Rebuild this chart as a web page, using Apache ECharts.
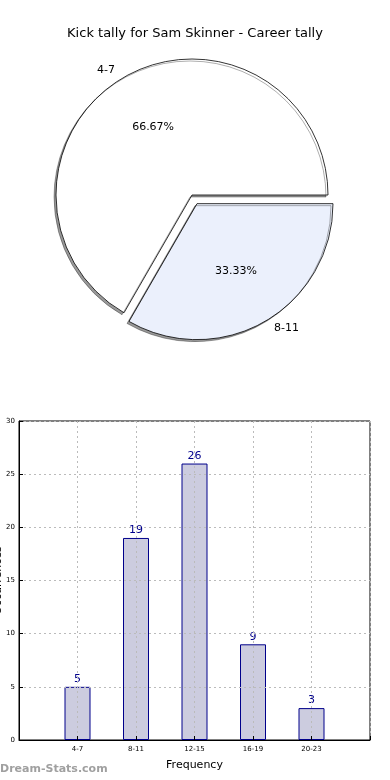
<!DOCTYPE html>
<html>
<head>
<meta charset="utf-8">
<script src="https://cdn.jsdelivr.net/npm/echarts@6/dist/echarts.min.js"></script>
<style>html,body{margin:0;padding:0;background:#fff}#c{width:390px;height:780px}</style>
</head>
<body>
<div id="c"></div>
<script>
// ---- data ----
var titleText = 'Kick tally for Sam Skinner - Career tally';
var pieCategories = ['4-7', '8-11'];
var pieValues = [2, 1];
var barCategories = ['', '4-7', '8-11', '12-15', '16-19', '20-23', ''];
var barValues = [null, 5, 19, 26, 9, 3, null];
var xAxisName = 'Frequency';
var yAxisName = 'Occurrences';
var watermark = 'Dream-Stats.com';

var FONT = 'DejaVu Sans';
var pieColors = ['#ffffff', '#ebf0fc'];
var R = 136;

var pieData = pieCategories.map(function (n, i) {
  return { name: n, value: pieValues[i], selected: i === 1,
           itemStyle: { color: pieColors[i] } };
});
var pieLabelData = pieCategories.map(function (n, i) {
  return { name: n, value: pieValues[i], selected: i === 1 };
});

var chart = echarts.init(document.getElementById('c'));
chart.setOption({
  animation: false,
  textStyle: { fontFamily: FONT },
  title: {
    text: titleText, left: 'center', top: 22,
    textStyle: { fontFamily: FONT, fontSize: 13, fontWeight: 'normal', color: '#000' }
  },
  grid: { left: 19, right: 20, top: 421, bottom: 40, show: true, borderColor: '#000', borderWidth: 1,
          containLabel: false, outerBoundsMode: 'none' },
  xAxis: {
    type: 'category', data: barCategories, boundaryGap: false, z: 3,
    name: xAxisName, nameLocation: 'middle', nameGap: 20,
    nameTextStyle: { fontFamily: FONT, fontSize: 11, color: '#000' },
    axisLine: { lineStyle: { color: '#000' } },
    axisTick: { inside: true, length: 4, lineStyle: { color: '#000' } },
    axisLabel: { fontSize: 7, color: '#000', margin: 6, interval: 0 },
    splitLine: { show: true, lineStyle: { color: '#bbbbbb', type: [2, 3], width: 1 } }
  },
  yAxis: {
    type: 'value', min: 0, max: 30, interval: 5, z: 3,
    name: yAxisName, nameLocation: 'middle', nameGap: 15, nameMoveOverlap: false,
    nameTextStyle: { fontFamily: FONT, fontSize: 11, color: '#000' },
    axisLine: { show: true, lineStyle: { color: '#000' } },
    axisTick: { show: true, inside: true, length: 4, lineStyle: { color: '#000' } },
    axisLabel: { fontSize: 7, color: '#000', margin: 4 },
    splitLine: { show: true, lineStyle: { color: '#bbbbbb', type: [2, 3], width: 1 } }
  },
  series: [
    {
      type: 'pie', center: [192, 195], radius: [0, R],
      startAngle: 0, clockwise: false,
      selectedMode: 'single', selectedOffset: 10,
      data: pieData,
      itemStyle: { borderColor: '#000', borderWidth: 0.8,
                   shadowColor: 'rgba(0,0,0,0.4)', shadowOffsetX: -2, shadowOffsetY: 2, shadowBlur: 0 },
      label: { show: true, position: 'outside', formatter: '{b}', fontSize: 11, color: '#000', fontFamily: FONT },
      labelLine: { show: false, length: 8, length2: 0 },
      emphasis: { disabled: true }
    },
    {
      type: 'pie', center: [192, 195], radius: [R * 0.1, R],
      startAngle: 0, clockwise: false, silent: true,
      selectedMode: 'single', selectedOffset: 10,
      data: pieLabelData,
      itemStyle: { color: 'rgba(0,0,0,0)', borderWidth: 0 },
      label: { show: true, position: 'inside', formatter: '{d}%', fontSize: 11, color: '#000', fontFamily: FONT },
      labelLine: { show: false },
      emphasis: { disabled: true }
    },
    {
      type: 'bar', data: barValues, barWidth: 26,
      itemStyle: { color: '#ccccdf', borderColor: '#00008b', borderWidth: 1 },
      label: { show: true, position: 'top', distance: 2, color: '#00008b', fontSize: 11, fontFamily: FONT },
      emphasis: { disabled: true }
    }
  ],
  graphic: [
    { type: 'text', left: 0, top: 764,
      style: { text: watermark, fill: '#a0a0a0', font: 'bold 11px "DejaVu Sans"' } }
  ]
});
</script>
</body>
</html>
